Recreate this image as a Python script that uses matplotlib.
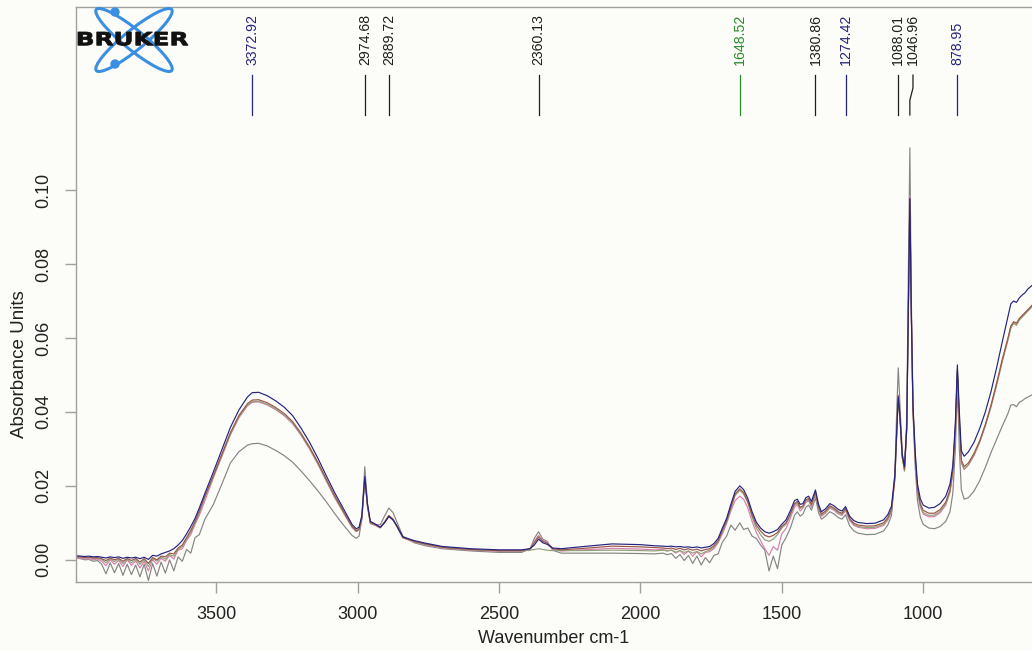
import matplotlib.pyplot as plt
from matplotlib.patches import Ellipse, Circle, PathPatch
from matplotlib.textpath import TextPath
from matplotlib.font_manager import FontProperties
from matplotlib.transforms import Affine2D

plt.rcParams['font.family'] = ['Liberation Sans', 'DejaVu Sans']

# wavenumber grid (cm-1), high to low
wavenumber = [
    3996, 3980, 3965, 3950, 3935, 3920, 3905, 3890, 3875, 3860, 3845, 3830, 3815, 3800, 3785,
    3770, 3755, 3740, 3725, 3710, 3695, 3680, 3665, 3650, 3635, 3620, 3605, 3590, 3575, 3560,
    3540, 3510, 3480, 3450, 3420, 3390, 3372.92, 3350, 3320, 3290, 3260, 3230, 3200, 3170, 3140,
    3110, 3080, 3050, 3020, 3005,
    2995, 2985, 2974.68, 2965, 2955, 2940, 2920, 2905, 2889.72, 2875, 2860, 2840, 2800, 2760, 2700,
    2600, 2500, 2420, 2390, 2375, 2360.13, 2345, 2330, 2310, 2280, 2200, 2100, 2000, 1950,
    1920, 1905, 1890, 1875, 1860, 1845, 1830, 1815, 1800, 1785, 1770, 1755, 1740, 1725, 1710,
    1695, 1680, 1665, 1648.52, 1635, 1620, 1605, 1590, 1575, 1560, 1545, 1530, 1515, 1500,
    1485, 1470, 1455, 1445, 1435, 1425, 1415, 1405, 1395, 1380.86, 1370, 1360, 1345, 1330, 1315,
    1300, 1287, 1274.42, 1260, 1245, 1230, 1200, 1170, 1140, 1125, 1112, 1100, 1094, 1088.01, 1082,
    1074, 1066, 1058, 1052, 1046.96, 1042, 1036, 1028, 1020, 1010, 1000, 980, 960, 940, 920,
    905, 895, 886, 878.95, 872, 865, 855, 840, 820, 800, 780, 760, 740, 720, 700,
    690, 680, 670, 660, 650, 640, 630, 615,
]

spec_navy = [
    0.0011, 0.0010, 0.0009, 0.0010, 0.0008, 0.0009, 0.0007, 0.0005, 0.0008, 0.0006, 0.0008, 0.0004, 0.0007, 0.0005, 0.0007,
    0.0003, 0.0007, 0.0001, 0.0012, 0.0010, 0.0016, 0.0020, 0.0024, 0.0030, 0.0040, 0.0052, 0.0070, 0.0090, 0.0112, 0.0140,
    0.0180, 0.0238, 0.0298, 0.0358, 0.0405, 0.0440, 0.0452, 0.0453, 0.0444, 0.0430, 0.0413, 0.0390, 0.0356, 0.0318, 0.0274,
    0.0226, 0.0180, 0.0138, 0.0096, 0.0084,
    0.0088, 0.0120, 0.0225, 0.0150, 0.0104, 0.0098, 0.0088, 0.0100, 0.0117, 0.0108, 0.0090, 0.0062, 0.0052, 0.0045, 0.0036,
    0.0030, 0.0027, 0.0027, 0.0030, 0.0040, 0.0056, 0.0046, 0.0042, 0.0032, 0.0030, 0.0036, 0.0043, 0.0041, 0.0038,
    0.0037, 0.0036, 0.0037, 0.0035, 0.0036, 0.0034, 0.0035, 0.0033, 0.0035, 0.0032, 0.0034, 0.0036, 0.0044, 0.0058, 0.0086,
    0.0112, 0.0150, 0.0185, 0.0200, 0.0190, 0.0166, 0.0130, 0.0102, 0.0086, 0.0076, 0.0072, 0.0076, 0.0082, 0.0096,
    0.0108, 0.0132, 0.0160, 0.0164, 0.0150, 0.0152, 0.0168, 0.0172, 0.0158, 0.0189, 0.0150, 0.0130, 0.0138, 0.0152, 0.0146,
    0.0136, 0.0132, 0.0144, 0.0118, 0.0106, 0.0101, 0.0098, 0.0099, 0.0108, 0.0122, 0.0145, 0.0230, 0.0340, 0.0440, 0.0390,
    0.0285, 0.0252, 0.0360, 0.0700, 0.0977, 0.0680, 0.0420, 0.0290, 0.0205, 0.0165, 0.0148, 0.0140, 0.0142, 0.0152, 0.0172,
    0.0205, 0.0255, 0.0370, 0.0527, 0.0400, 0.0295, 0.0280, 0.0292, 0.0318, 0.0355, 0.0400, 0.0455, 0.0520, 0.0590, 0.0658,
    0.0692, 0.0700, 0.0696, 0.0708, 0.0716, 0.0722, 0.0732, 0.0742,
]

spec_maroon = [
    0.0009, 0.0008, 0.0006, 0.0007, 0.0005, 0.0006, 0.0003, -0.0002, 0.0005, 0.0000, 0.0004, -0.0004, 0.0004, -0.0002, 0.0004,
    -0.0006, 0.0003, -0.0010, 0.0006, 0.0000, 0.0010, 0.0008, 0.0018, 0.0016, 0.0032, 0.0040, 0.0060, 0.0080, 0.0104, 0.0132,
    0.0172, 0.0228, 0.0286, 0.0344, 0.0390, 0.0422, 0.0432, 0.0433, 0.0425, 0.0412, 0.0396, 0.0374, 0.0342, 0.0305, 0.0263,
    0.0217, 0.0172, 0.0131, 0.0091, 0.0079,
    0.0083, 0.0115, 0.0222, 0.0146, 0.0101, 0.0096, 0.0088, 0.0102, 0.0120, 0.0110, 0.0090, 0.0061, 0.0050, 0.0043, 0.0034,
    0.0028, 0.0025, 0.0025, 0.0030, 0.0046, 0.0062, 0.0050, 0.0046, 0.0030, 0.0027, 0.0031, 0.0037, 0.0035, 0.0033,
    0.0032, 0.0030, 0.0032, 0.0028, 0.0031, 0.0027, 0.0030, 0.0026, 0.0029, 0.0024, 0.0028, 0.0030, 0.0038, 0.0052, 0.0080,
    0.0106, 0.0142, 0.0178, 0.0192, 0.0182, 0.0158, 0.0122, 0.0094, 0.0078, 0.0066, 0.0062, 0.0066, 0.0074, 0.0090,
    0.0100, 0.0124, 0.0152, 0.0158, 0.0142, 0.0146, 0.0162, 0.0166, 0.0150, 0.0184, 0.0144, 0.0124, 0.0132, 0.0146, 0.0140,
    0.0130, 0.0126, 0.0139, 0.0112, 0.0099, 0.0094, 0.0091, 0.0092, 0.0100, 0.0114, 0.0136, 0.0222, 0.0335, 0.0445, 0.0388,
    0.0280, 0.0245, 0.0355, 0.0700, 0.0975, 0.0675, 0.0410, 0.0278, 0.0192, 0.0152, 0.0134, 0.0126, 0.0126, 0.0136, 0.0156,
    0.0190, 0.0242, 0.0360, 0.0515, 0.0380, 0.0270, 0.0252, 0.0262, 0.0288, 0.0322, 0.0366, 0.0418, 0.0478, 0.0542, 0.0600,
    0.0632, 0.0644, 0.0640, 0.0652, 0.0660, 0.0668, 0.0676, 0.0688,
]

spec_olive = [
    0.0008, 0.0007, 0.0005, 0.0006, 0.0004, 0.0004, 0.0001, -0.0008, 0.0003, -0.0005, 0.0002, -0.0010, 0.0002, -0.0008, 0.0001,
    -0.0012, 0.0001, -0.0018, 0.0004, -0.0004, 0.0008, 0.0002, 0.0014, 0.0010, 0.0028, 0.0036, 0.0056, 0.0074, 0.0100, 0.0126,
    0.0170, 0.0225, 0.0283, 0.0340, 0.0386, 0.0418, 0.0428, 0.0429, 0.0421, 0.0408, 0.0392, 0.0370, 0.0338, 0.0301, 0.0259,
    0.0213, 0.0168, 0.0128, 0.0089, 0.0077,
    0.0081, 0.0113, 0.0220, 0.0144, 0.0100, 0.0095, 0.0087, 0.0101, 0.0119, 0.0109, 0.0089, 0.0060, 0.0049, 0.0042, 0.0033,
    0.0027, 0.0024, 0.0024, 0.0026, 0.0028, 0.0030, 0.0028, 0.0026, 0.0025, 0.0025, 0.0025, 0.0026, 0.0025, 0.0024,
    0.0026, 0.0024, 0.0026, 0.0021, 0.0025, 0.0020, 0.0024, 0.0018, 0.0023, 0.0016, 0.0022, 0.0026, 0.0034, 0.0048, 0.0076,
    0.0102, 0.0138, 0.0174, 0.0188, 0.0178, 0.0154, 0.0116, 0.0086, 0.0068, 0.0054, 0.0050, 0.0056, 0.0068, 0.0086,
    0.0096, 0.0120, 0.0148, 0.0154, 0.0139, 0.0143, 0.0158, 0.0163, 0.0147, 0.0180, 0.0141, 0.0121, 0.0129, 0.0143, 0.0137,
    0.0127, 0.0123, 0.0136, 0.0109, 0.0096, 0.0090, 0.0087, 0.0088, 0.0096, 0.0110, 0.0132, 0.0220, 0.0332, 0.0440, 0.0384,
    0.0276, 0.0242, 0.0352, 0.0695, 0.0970, 0.0670, 0.0405, 0.0272, 0.0186, 0.0146, 0.0128, 0.0120, 0.0121, 0.0131, 0.0151,
    0.0185, 0.0238, 0.0355, 0.0510, 0.0375, 0.0264, 0.0246, 0.0257, 0.0283, 0.0318, 0.0362, 0.0413, 0.0472, 0.0536, 0.0594,
    0.0626, 0.0640, 0.0634, 0.0648, 0.0656, 0.0664, 0.0672, 0.0684,
]

spec_pink = [
    0.0006, 0.0004, 0.0002, 0.0003, 0.0000, 0.0002, -0.0004, -0.0016, 0.0000, -0.0012, -0.0002, -0.0018, 0.0000, -0.0015, -0.0003,
    -0.0022, -0.0004, -0.0030, 0.0000, -0.0012, 0.0004, -0.0004, 0.0012, 0.0002, 0.0026, 0.0030, 0.0052, 0.0068, 0.0096, 0.0120,
    0.0160, 0.0222, 0.0280, 0.0338, 0.0384, 0.0416, 0.0426, 0.0427, 0.0419, 0.0406, 0.0390, 0.0368, 0.0337, 0.0300, 0.0258,
    0.0212, 0.0167, 0.0127, 0.0088, 0.0076,
    0.0080, 0.0112, 0.0218, 0.0143, 0.0099, 0.0094, 0.0086, 0.0100, 0.0118, 0.0108, 0.0088, 0.0059, 0.0048, 0.0041, 0.0032,
    0.0026, 0.0023, 0.0023, 0.0028, 0.0050, 0.0066, 0.0052, 0.0048, 0.0028, 0.0024, 0.0027, 0.0031, 0.0029, 0.0027,
    0.0028, 0.0024, 0.0027, 0.0018, 0.0025, 0.0014, 0.0024, 0.0010, 0.0022, 0.0008, 0.0020, 0.0022, 0.0030, 0.0046, 0.0070,
    0.0098, 0.0132, 0.0160, 0.0172, 0.0164, 0.0140, 0.0104, 0.0074, 0.0052, 0.0030, 0.0012, 0.0036, 0.0026, 0.0070,
    0.0085, 0.0112, 0.0142, 0.0150, 0.0132, 0.0140, 0.0155, 0.0160, 0.0142, 0.0178, 0.0138, 0.0118, 0.0126, 0.0140, 0.0134,
    0.0124, 0.0120, 0.0133, 0.0106, 0.0093, 0.0088, 0.0084, 0.0085, 0.0093, 0.0107, 0.0130, 0.0218, 0.0330, 0.0442, 0.0386,
    0.0278, 0.0244, 0.0354, 0.0705, 0.0985, 0.0680, 0.0408, 0.0272, 0.0184, 0.0143, 0.0124, 0.0116, 0.0117, 0.0127, 0.0148,
    0.0182, 0.0236, 0.0352, 0.0508, 0.0372, 0.0262, 0.0244, 0.0256, 0.0282, 0.0318, 0.0364, 0.0416, 0.0476, 0.0540, 0.0598,
    0.0630, 0.0642, 0.0636, 0.0652, 0.0660, 0.0668, 0.0676, 0.0688,
]

spec_gray = [
    0.0005, 0.0003, 0.0000, 0.0001, -0.0004, -0.0002, -0.0012, -0.0038, -0.0008, -0.0035, -0.0010, -0.0042, -0.0012, -0.0040, -0.0014,
    -0.0046, -0.0012, -0.0056, -0.0010, -0.0044, -0.0006, -0.0036, 0.0000, -0.0030, 0.0008, -0.0004, 0.0028, 0.0018, 0.0060, 0.0068,
    0.0110, 0.0150, 0.0205, 0.0262, 0.0292, 0.0310, 0.0314, 0.0315, 0.0308, 0.0296, 0.0282, 0.0264, 0.0240, 0.0214, 0.0186,
    0.0156, 0.0124, 0.0094, 0.0066, 0.0058,
    0.0064, 0.0110, 0.0252, 0.0150, 0.0098, 0.0094, 0.0095, 0.0118, 0.0140, 0.0128, 0.0100, 0.0064, 0.0046, 0.0038, 0.0030,
    0.0024, 0.0020, 0.0020, 0.0030, 0.0058, 0.0076, 0.0056, 0.0050, 0.0026, 0.0018, 0.0018, 0.0018, 0.0017, 0.0016,
    0.0018, 0.0014, 0.0017, 0.0004, 0.0014, -0.0002, 0.0012, -0.0010, 0.0010, -0.0014, 0.0006, -0.0008, 0.0012, 0.0016, 0.0048,
    0.0064, 0.0094, 0.0080, 0.0100, 0.0082, 0.0086, 0.0064, 0.0058, 0.0040, 0.0026, -0.0030, 0.0010, -0.0024, 0.0040,
    0.0060, 0.0085, 0.0120, 0.0130, 0.0118, 0.0124, 0.0142, 0.0148, 0.0134, 0.0168, 0.0128, 0.0110, 0.0118, 0.0130, 0.0124,
    0.0114, 0.0110, 0.0122, 0.0092, 0.0078, 0.0072, 0.0068, 0.0069, 0.0078, 0.0094, 0.0120, 0.0230, 0.0390, 0.0519, 0.0420,
    0.0290, 0.0240, 0.0380, 0.0800, 0.1114, 0.0720, 0.0400, 0.0250, 0.0160, 0.0116, 0.0096, 0.0086, 0.0084, 0.0090, 0.0104,
    0.0130, 0.0180, 0.0300, 0.0470, 0.0300, 0.0190, 0.0164, 0.0168, 0.0186, 0.0214, 0.0250, 0.0290, 0.0326, 0.0362, 0.0396,
    0.0418, 0.0420, 0.0414, 0.0426, 0.0430, 0.0436, 0.0440, 0.0446,
]

peak_positions = [3372.92, 2974.68, 2889.72, 2360.13, 1648.52, 1380.86, 1274.42, 1088.01, 1046.96, 878.95]
peak_text = ['3372.92', '2974.68', '2889.72', '2360.13', '1648.52', '1380.86', '1274.42', '1088.01', '1046.96', '878.95']

navy = '#24247e'
ink = '#1e1e1e'
peak_colors = [navy, ink, ink, ink, '#2b8a2b', ink, navy, ink, ink, navy]
# crowded labels are nudged sideways (cm-1) and joined to the peak with a bent leader
label_nudge = {1046.96: -11}

fig = plt.figure(figsize=(10.32, 6.51), dpi=100, facecolor='#fcfcf8')
ax = fig.add_axes([76 / 1032, 69 / 651, 956 / 1032, 575 / 651])
ax.set_facecolor('#fcfcf8')

traces = [
    (spec_gray, '#858585'),
    (spec_pink, '#d77fae'),
    (spec_olive, '#8fa27a'),
    (spec_maroon, '#9a5548'),
    (spec_navy, navy),
]
for values, col in traces:
    ax.plot(wavenumber, values, color=col, lw=0.85, solid_joinstyle='round')

for pos, txt, col in zip(peak_positions, peak_text, peak_colors):
    lx = pos + label_nudge.get(pos, 0)
    if lx == pos:
        ax.plot([pos, pos], [0.1203, 0.1311], color=col, lw=0.9)
    else:
        ax.plot([pos, pos, lx, lx], [0.1203, 0.1243, 0.1276, 0.1311], color=col, lw=0.9)
    ax.text(lx, 0.1338, txt, rotation=90, ha='center', va='bottom',
            fontsize=10.2, color=col)

ax.set_xlim(3996, 615)
ax.set_ylim(-0.006, 0.1495)
ax.set_xticks([3500, 3000, 2500, 2000, 1500, 1000])
ax.set_yticks([0.00, 0.02, 0.04, 0.06, 0.08, 0.10])
ax.set_yticklabels(['0.00', '0.02', '0.04', '0.06', '0.08', '0.10'], rotation=90, va='center')

for side in ['left', 'bottom', 'top']:
    ax.spines[side].set_color('#a0a0a0')
    ax.spines[side].set_linewidth(1.0)
ax.spines['right'].set_visible(False)
ax.tick_params(axis='both', direction='out', length=8, width=1, color='#a0a0a0',
               labelsize=13, labelcolor='#222222')
ax.tick_params(axis='x', pad=9)
ax.tick_params(axis='y', pad=9)

ax.set_xlabel('Wavenumber cm-1', fontsize=13, color='#222222')
ax.set_ylabel('Absorbance Units', fontsize=13.5, color='#222222')
ax.xaxis.set_label_coords(0.5, -0.099)
ax.xaxis.label.set_verticalalignment('center')
ax.yaxis.set_label_coords(-0.0586, 0.379)
ax.yaxis.label.set_verticalalignment('center')

# instrument logo in the top left corner, drawn in pixel units
lg = fig.add_axes([0, 0, 1, 1], zorder=5)
lg.set_xlim(0, 1032)
lg.set_ylim(651, 0)
lg.axis('off')
lg.patch.set_alpha(0)
blue = '#3b8fe3'
for ang in (39, -39):
    lg.add_patch(Ellipse((134, 40), 97, 20, angle=ang, fill=False, ec=blue, lw=2.2))
for cx, cy in [(115, 12), (115, 64)]:
    lg.add_patch(Circle((cx, cy), 4.0, color=blue))

tp = TextPath((0, 0), 'BRUKER', size=1, prop=FontProperties(family='DejaVu Sans', weight='bold'))
ext = tp.get_extents()
sx = 110 / ext.width
sy = 13.5 / ext.height
tr = Affine2D().translate(-ext.x0, -ext.y0).scale(sx, -sy).translate(78, 45.5)
lg.add_patch(PathPatch(tr.transform_path(tp), fc='#111111', ec='#111111', lw=0.6))

fig.savefig('out.png', dpi=100, facecolor=fig.get_facecolor())
